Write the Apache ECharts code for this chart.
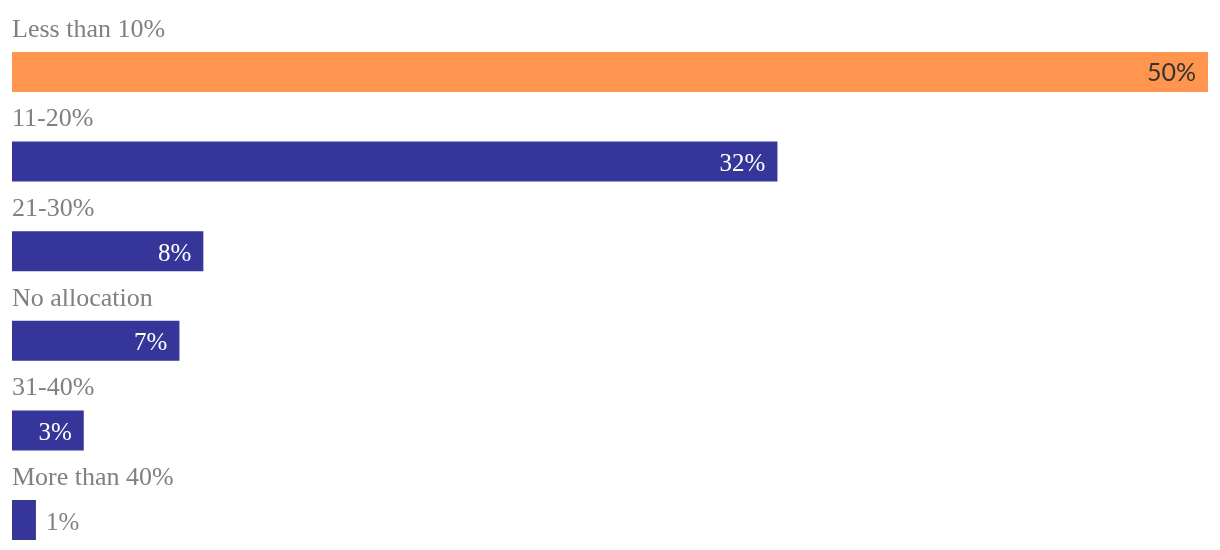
<!DOCTYPE html>
<html>
<head>
<meta charset="utf-8">
<script src="https://cdn.jsdelivr.net/npm/echarts@6/dist/echarts.min.js"></script>
<style>html,body{margin:0;padding:0;background:#fff}#c{width:1220px;height:550px}</style>
</head>
<body>
<div id="c"></div>
<script>
const categories = ["Less than 10%", "11-20%", "21-30%", "No allocation", "31-40%", "More than 40%"];
const values = [50, 32, 8, 7, 3, 1];
const highlightIndex = 0;

const ORANGE = "#ff954f";
const BLUE = "#35359a";
const GRAY = "#808080";
const SERIF = "'Liberation Serif', serif";

const chart = echarts.init(document.getElementById('c'));
const mainData = values.map((v, i) => {
  const item = { value: v, itemStyle: { color: i === highlightIndex ? ORANGE : BLUE } };
  if (i === highlightIndex) {
    item.label = { color: "#333", fontFamily: "Lato, sans-serif", fontSize: 25, offset: [0, 1] };
  } else if (v < 2) {
    item.label = { position: "right", distance: 10, color: GRAY };
  }
  return item;
});
chart.setOption({
  animation: false,
  grid: { left: 12, right: 12, top: 72, bottom: 30, containLabel: false },
  xAxis: { type: 'value', min: 0, max: 50, show: false },
  yAxis: { type: 'category', data: categories, inverse: true, show: false, boundaryGap: false },
  series: [
    {
      type: 'bar', data: mainData, barWidth: 40,
      label: { show: true, position: 'insideRight', distance: 12, offset: [0, 3], color: '#fff', fontFamily: SERIF, fontSize: 25, formatter: '{c}%' }
    },
    {
      type: 'bar', data: values, barWidth: 40, barGap: '-100%', silent: true,
      itemStyle: { color: 'rgba(0,0,0,0)' },
      label: { show: true, position: [0, -35], align: 'left', verticalAlign: 'top', color: GRAY, fontFamily: SERIF, fontSize: 26,
        formatter: p => categories[p.dataIndex] }
    }
  ]
});
</script>
</body>
</html>
